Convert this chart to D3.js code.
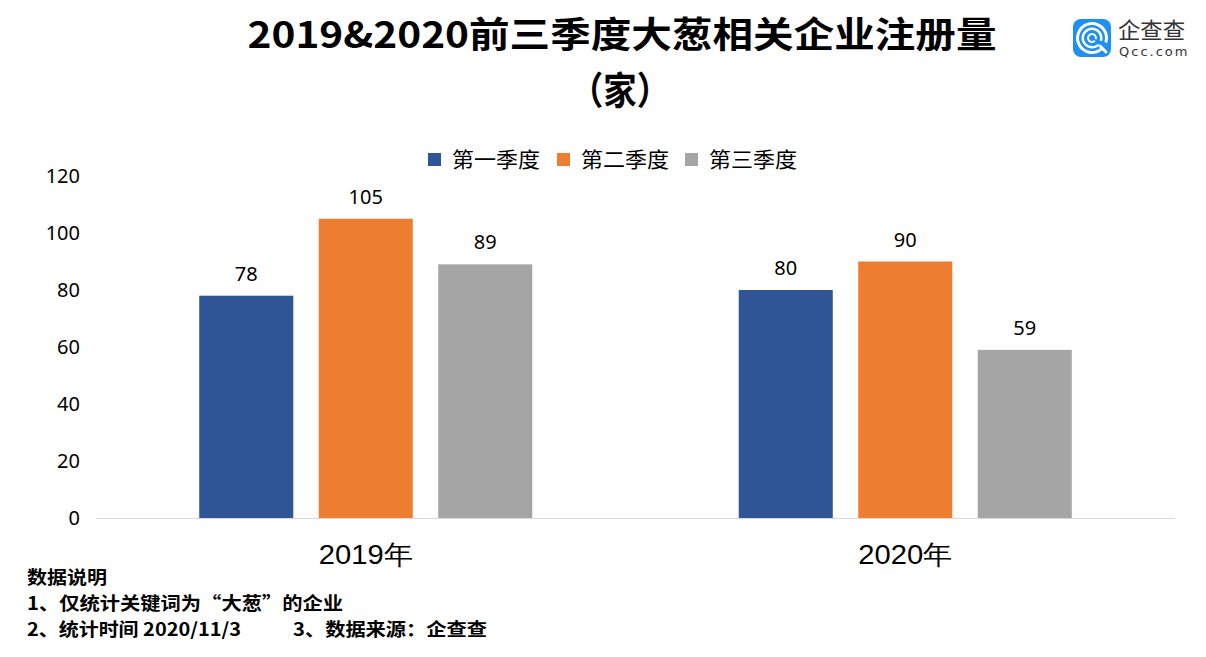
<!DOCTYPE html>
<html><head><meta charset="utf-8">
<script src="https://cdn.jsdelivr.net/npm/d3@7"></script>
<style>
body{margin:0;background:#fff;}
svg{display:block;font-family:"Noto Sans CJK SC","Noto Sans",sans-serif;}
</style></head>
<body>
<svg id="chart" width="1206" height="657"></svg>
<script>
const years = ["2019年","2020年"];
const quarters = ["第一季度","第二季度","第三季度"];
const q1Values = [78, 80];
const q2Values = [105, 90];
const q3Values = [89, 59];
const yTicks = [0,20,40,60,80,100,120];
const colors = ["#2f5597","#ed7d31","#a5a5a5"];
const titleLine1 = "2019&2020前三季度大葱相关企业注册量";
const titleLine2 = "（家）";
const notes = ["数据说明","1、仅统计关键词为“大葱”的企业","2、统计时间 2020/11/3","3、数据来源：企查查"];

const svg = d3.select("#chart");
const series = [q1Values, q2Values, q3Values];
const data = years.map((y,i)=>({year:y, values: quarters.map((q,j)=>({q, j, v: series[j][i]}))}));

const x0 = d3.scaleBand().domain(years).range([96,1175]).paddingInner(0).paddingOuter(0);
const x1 = d3.scaleBand().domain(quarters).range([0,x0.bandwidth()]).paddingInner(0.213).paddingOuter(0.864);
const y = d3.scaleLinear().domain([0,120]).range([518,176]);

// Title
svg.append("text").attr("x",622).attr("y",48).attr("text-anchor","middle")
  .attr("font-size",36).attr("font-weight","bold").attr("fill","#000")
  .attr("textLength",749).attr("lengthAdjust","spacingAndGlyphs").text(titleLine1);
svg.append("text").attr("x",620).attr("y",104).attr("text-anchor","middle")
  .attr("font-size",38).attr("font-weight","bold").attr("fill","#000")
  .attr("textLength",100).attr("lengthAdjust","spacingAndGlyphs").text(titleLine2);

// Legend
const legendX = [428, 557, 685];
const lg = svg.append("g");
quarters.forEach((q,i)=>{
  lg.append("rect").attr("x",legendX[i]).attr("y",153).attr("width",13).attr("height",13).attr("fill",colors[i]);
  lg.append("text").attr("x",legendX[i]+24).attr("y",167).attr("font-size",21).attr("fill","#000")
    .attr("textLength",88).attr("lengthAdjust","spacingAndGlyphs").text(q);
});

// Y axis labels
const yAxis = d3.axisLeft(y).tickValues(yTicks).tickSize(0).tickPadding(0);
const ya = svg.append("g").attr("transform","translate(80,0)").call(yAxis);
ya.select(".domain").remove();
ya.selectAll("text").attr("font-size",20).attr("fill","#000").attr("font-family","\"Noto Sans\",sans-serif");

// Baseline
svg.append("line").attr("x1",96).attr("x2",1175).attr("y1",y(0)+0.5).attr("y2",y(0)+0.5)
  .attr("stroke","#d9d9d9").attr("stroke-width",1.2);

// Bars
const groups = svg.selectAll("g.grp").data(data).enter().append("g").attr("class","grp")
  .attr("transform",d=>`translate(${x0(d.year)},0)`);
groups.selectAll("rect").data(d=>d.values).enter().append("rect")
  .attr("x",d=>x1(d.q)).attr("width",x1.bandwidth())
  .attr("y",d=>y(d.v)).attr("height",d=>y(0)-y(d.v)).attr("fill",d=>colors[d.j]);
groups.selectAll("text.lbl").data(d=>d.values).enter().append("text").attr("class","lbl")
  .attr("x",d=>x1(d.q)+x1.bandwidth()/2).attr("y",d=>y(d.v)-15)
  .attr("text-anchor","middle").attr("font-size",20).attr("fill","#000")
  .attr("font-family","\"Noto Sans\",sans-serif").text(d=>d.v);

// X axis labels
const xAxis = d3.axisBottom(x0).tickSize(0).tickPadding(0);
const xa = svg.append("g").attr("transform","translate(0,545)").call(xAxis);
xa.select(".domain").remove();
xa.selectAll("text").attr("font-size",27).attr("fill","#000").attr("dy","0.71em")
  .attr("textLength",94).attr("lengthAdjust","spacingAndGlyphs");

// Notes
const ng = svg.append("g").attr("font-weight","bold").attr("font-size",18).attr("fill","#000")
  .attr("lengthAdjust","spacingAndGlyphs");
ng.append("text").attr("x",27).attr("y",584).attr("textLength",80).text(notes[0]);
ng.append("text").attr("x",27).attr("y",610).attr("textLength",316).text(notes[1]);
ng.append("text").attr("x",27).attr("y",636).attr("textLength",214).text(notes[2]);
ng.append("text").attr("x",293).attr("y",636).attr("textLength",194).text(notes[3]);
ng.selectAll("text").attr("lengthAdjust","spacingAndGlyphs");

// Logo
const logo = svg.append("g").attr("transform","translate(1073,19)");
logo.append("rect").attr("width",38).attr("height",38).attr("rx",8).attr("fill","#1e8ff5");
const arc = d3.arc();
[[13,16],[8,10.5],[3,5]].forEach(([r0,r1])=>{
  logo.append("path").attr("transform","translate(19,19)")
    .attr("d",arc({innerRadius:r0,outerRadius:r1,startAngle:0.75*Math.PI,endAngle:2.25*Math.PI+Math.PI*0.35}))
    .attr("fill","#fff");
});
logo.append("line").attr("x1",27).attr("y1",27).attr("x2",33).attr("y2",33).attr("stroke","#fff").attr("stroke-width",3).attr("stroke-linecap","round");
svg.append("text").attr("x",1118).attr("y",38).attr("font-size",22).attr("fill","#333")
  .attr("textLength",67).attr("lengthAdjust","spacingAndGlyphs").text("企查查");
svg.append("text").attr("x",1119).attr("y",56).attr("font-size",13).attr("fill","#333")
  .attr("letter-spacing",2).attr("font-family","\"DejaVu Sans\",sans-serif").text("Qcc.com");
</script>
</body></html>
